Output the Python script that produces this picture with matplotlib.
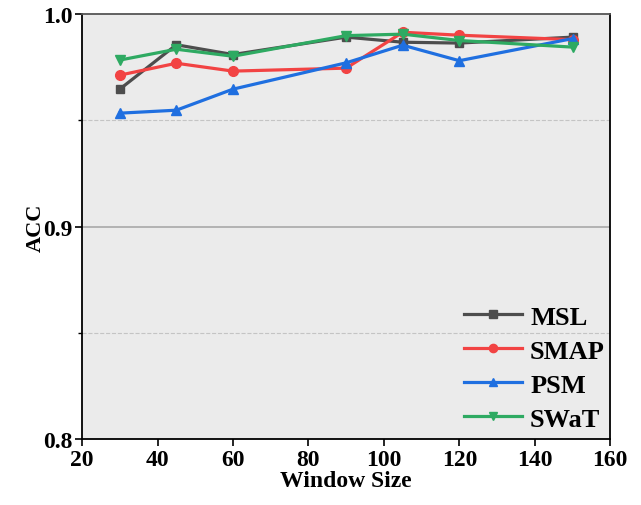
import numpy as np
import matplotlib
matplotlib.use("Agg")
import matplotlib.pyplot as plt
import matplotlib.ticker as tck

plt.rcParams.update({"font.family": "Liberation Serif", "font.weight": "bold",
                     "axes.labelweight": "bold", "font.size": 14})

window = [30, 45, 60, 90, 105, 120, 150]
msl = [0.9647, 0.9856, 0.9810, 0.9892, 0.9868, 0.9864, 0.9892]
smap = [0.9713, 0.9769, 0.9732, 0.9746, 0.9915, 0.9901, 0.9880]
psm = [0.9534, 0.9548, 0.9647, 0.9771, 0.9854, 0.9781, 0.9885]
swat = [0.9784, 0.9835, 0.9802, 0.9899, 0.9906, 0.9876, 0.9845]

fig = plt.figure(figsize=(6.41, 5.06), dpi=100)
ax = fig.add_axes([0.128, 0.1304, 0.824, 0.8396])
ax.set_facecolor("#ebebeb")

ax.axhline(0.9, color="#a8a8a8", lw=1.2, zorder=1)
for yv in [0.95, 0.85]:
    ax.axhline(yv, color="#c4c4c4", lw=0.8, ls="--", zorder=1)

ax.plot(window, msl, color="#4d4d4d", marker="s", ms=6, lw=2.3, label="MSL", zorder=3)
ax.plot(window, smap, color="#f24343", marker="o", ms=7, lw=2.3, label="SMAP", zorder=3)
ax.plot(window, psm, color="#1f6fe0", marker="^", ms=7, lw=2.3, label="PSM", zorder=3)
ax.plot(window, swat, color="#2eaa62", marker="v", ms=7, lw=2.3, label="SWaT", zorder=3)

ax.set_xlim(20, 160)
ax.set_ylim(0.8, 1.0)
ax.set_xticks(np.arange(20, 161, 20))
ax.set_yticks([0.8, 0.9, 1.0])
ax.yaxis.set_minor_locator(tck.MultipleLocator(0.05))
ax.tick_params(axis="both", which="major", direction="out", length=5, width=1.2, labelsize=17, pad=2)
ax.tick_params(axis="y", which="minor", direction="out", length=3, width=1.0)
for s in ax.spines.values():
    s.set_linewidth(1.3)
    s.set_color("black")
ax.spines["top"].set_color("#555555")

ax.set_xlabel("Window Size", fontsize=17, labelpad=0)
ax.set_ylabel("ACC", fontsize=16, labelpad=-2)

leg = ax.legend(loc="lower right", bbox_to_anchor=(1.01, -0.005), frameon=False, fontsize=19,
                handlelength=2.2, labelspacing=0.4, borderaxespad=0.0, handletextpad=0.3,
                markerscale=0.85)

fig.savefig("out.png", dpi=100)
